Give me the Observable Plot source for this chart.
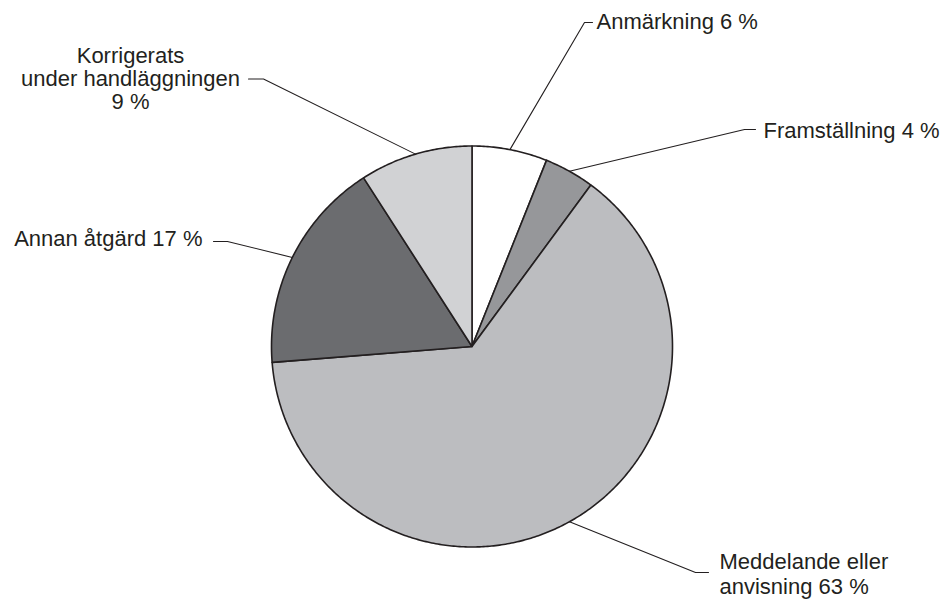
<!DOCTYPE html>
<html>
<head>
<meta charset="utf-8">
<script src="https://cdn.jsdelivr.net/npm/d3@7"></script>
<script src="https://cdn.jsdelivr.net/npm/@observablehq/plot@0.6"></script>
<style>
  html, body { margin: 0; padding: 0; background: #fff; }
  #chart svg { display: block; }
</style>
</head>
<body>
<div id="chart"></div>
<script>
// Andel ärenden per typ av åtgärd (procent)
const categories = [
  "Anmärkning",
  "Framställning",
  "Meddelande eller anvisning",
  "Annan åtgärd",
  "Korrigerats under handläggningen"
];
const shares = [6, 4, 63, 17, 9];
// Etiketttexter; {v} ersätts med andelen
const labelFormats = [
  "Anmärkning {v} %",
  "Framställning {v} %",
  "Meddelande eller\nanvisning {v} %",
  "Annan åtgärd {v} %",
  "Korrigerats\nunder handläggningen\n{v} %"
];

// Utseende
const fills = ["#ffffff", "#96979a", "#bcbdc0", "#6b6c6f", "#d1d2d4"];
const ink = "#231f20";
const W = 949, H = 600;
const cx = 471.5, cy = 346, R = 200.5;

// Placering av etiketter: knäpunkt, ändpunkt för ledaren, textens läge och radavstånd
const labelLayout = [
  {elbow: [584, 22],   end: [592, 22],   text: [596, 28.5],  anchor: "start",  step: 22},
  {elbow: [744, 129],  end: [755, 129],  text: [763, 137],   anchor: "start",  step: 22},
  {elbow: [695, 572],  end: [708, 572],  text: [719, 568.5], anchor: "start",  step: 25},
  {elbow: [227, 241],  end: [213, 241],  text: [202, 245],   anchor: "end",    step: 22},
  {elbow: [263, 78.5], end: [248, 78.5], text: [130, 62.5],  anchor: "middle", step: 23}
];

const arcs = d3.pie().sort(null).value(d => d)(shares);
const polar = (a, r) => [cx + r * Math.sin(a), cy - r * Math.cos(a)];

// Sektorernas konturer som slutna polygoner
const slicePts = [];
arcs.forEach((a, i) => {
  slicePts.push({k: i, x: cx, y: cy, fill: fills[i]});
  const n = Math.max(2, Math.ceil((a.endAngle - a.startAngle) / 0.01));
  for (let j = 0; j <= n; j++) {
    const t = a.startAngle + (a.endAngle - a.startAngle) * j / n;
    const [x, y] = polar(t, R);
    slicePts.push({k: i, x, y, fill: fills[i]});
  }
});

// Ledarlinjer från sektorns mittvinkel på cirkelbågen
const leaderPts = [];
const labels = [];
arcs.forEach((a, i) => {
  const mid = (a.startAngle + a.endAngle) / 2;
  const [ax, ay] = polar(mid, R);
  const L = labelLayout[i];
  leaderPts.push({k: i, x: ax, y: ay});
  leaderPts.push({k: i, x: L.elbow[0], y: L.elbow[1]});
  leaderPts.push({k: i, x: L.end[0], y: L.end[1]});
  const lines = labelFormats[i].replace("{v}", shares[i]).split("\n");
  lines.forEach((line, j) => {
    labels.push({x: L.text[0], y: L.text[1] + j * L.step, text: line, anchor: L.anchor});
  });
});

const plot = Plot.plot({
  width: W,
  height: H,
  margin: 0,
  x: {type: "identity", axis: null},
  y: {type: "identity", axis: null},
  color: {type: "identity"},
  style: {fontFamily: "'Liberation Sans', Arial, Helvetica, sans-serif", background: "#fff"},
  marks: [
    Plot.line(slicePts, {
      x: "x", y: "y", z: "k", fill: "fill", curve: "linear-closed",
      stroke: ink, strokeWidth: 1.6, strokeLinejoin: "round"
    }),
    Plot.line(leaderPts, {x: "x", y: "y", z: "k", stroke: ink, strokeWidth: 1.1}),
    ...["start", "middle", "end"].map(anc =>
      Plot.text(labels.filter(d => d.anchor === anc), {
        x: "x", y: "y", text: "text", textAnchor: anc,
        lineAnchor: "bottom", fontSize: 22, fill: ink
      })
    )
  ]
});

document.getElementById("chart").appendChild(plot);
</script>
</body>
</html>
